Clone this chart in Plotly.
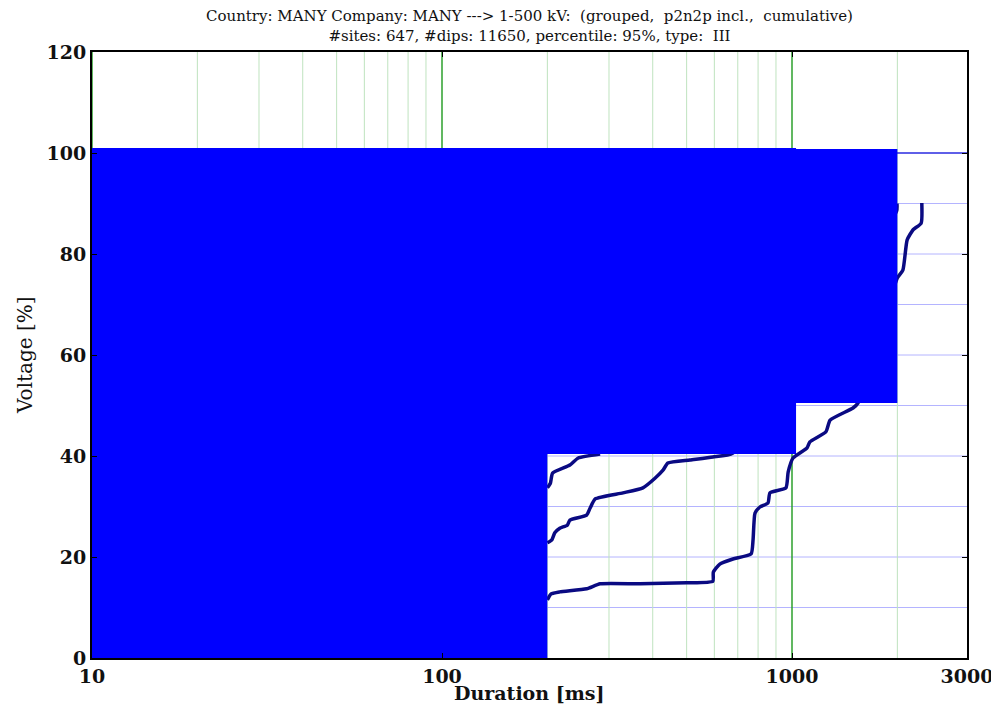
import plotly.graph_objects as go

# ---- data ----
# percentile curves (duration ms, voltage %)
curve_a_x = [200, 205, 217, 259, 283, 368, 501, 594, 596, 622, 678, 764, 774, 784, 810, 854, 865, 961, 975, 1007,
             1104, 1125, 1250, 1285, 1494, 1544, 1998, 2074, 2133, 2218, 2339, 2349]
curve_a_y = [11.5, 12.7, 13.1, 13.7, 14.7, 14.7, 14.9, 15.2, 17.0, 18.6, 19.6, 20.6, 23.4, 28.7, 29.9, 30.7, 32.7, 33.7, 36.8, 39.6,
             41.6, 42.8, 44.8, 47.1, 49.5, 50.5, 75.2, 76.8, 82.8, 84.8, 86.1, 90.1]
curve_b_x = [200, 206, 210, 217, 228, 232, 259, 265, 274, 329, 375, 406, 428, 442, 511, 594, 678, 1990, 1995]
curve_b_y = [22.8, 23.4, 24.8, 25.7, 26.3, 27.3, 28.3, 29.7, 31.5, 32.7, 33.7, 35.6, 37.2, 38.6, 39.2, 39.8, 40.6, 88.5, 90.0]
curve_c_x = [200, 204, 207, 232, 245, 283]
curve_c_y = [33.7, 34.6, 36.6, 38.2, 39.6, 40.4]

# filled region (duration ms, voltage %)
region_x = [10, 200, 200, 1027, 1027, 2000, 2000, 1027, 1027, 10]
region_y = [0, 0, 40.4, 40.4, 50.5, 50.5, 100.8, 100.8, 101, 101]

# reference level line
limit_x = [10, 3162]
limit_y = [100, 100]

# grid positions
h_grid = [10, 20, 30, 40, 50, 60, 70, 80, 90]
v_minor = [20, 30, 40, 50, 60, 70, 80, 90, 200, 300, 400, 500, 600, 700, 800, 900, 2000]
v_major = [10, 100, 1000]

# ticks
x_tickvals = [10, 100, 1000, 3162.28]
x_ticktext = ["10", "100", "1000", "3000"]
y_tickvals = [0, 20, 40, 60, 80, 100, 120]

title_line1 = "Country: MANY Company: MANY ---&gt; 1-500 kV:&nbsp; (grouped,&nbsp; p2n2p incl.,&nbsp; cumulative)"
title_line2 = "#sites: 647, #dips: 11650, percentile: 95%, type:&nbsp; III"
x_label = "Duration [ms]"
y_label = "Voltage [%]"

fig = go.Figure()

navy = "#0a0a82"
for cx, cy in [(curve_a_x, curve_a_y), (curve_b_x, curve_b_y), (curve_c_x, curve_c_y)]:
    fig.add_trace(go.Scatter(x=cx, y=cy, mode="lines",
                             line=dict(color=navy, width=3.5, shape="spline", smoothing=0.5),
                             hoverinfo="skip", showlegend=False))

fig.add_trace(go.Scatter(x=limit_x, y=limit_y, mode="lines", line=dict(color="#2a2ae0", width=1.5),
                         hoverinfo="skip", showlegend=False))

fig.add_trace(go.Scatter(x=region_x, y=region_y, mode="lines", fill="toself", fillcolor="#0000ff",
                         line=dict(color="#0000ff", width=0), hoverinfo="skip", showlegend=False))

shapes = []
for v in h_grid:
    shapes.append(dict(type="line", xref="paper", yref="y", x0=0, x1=1, y0=v, y1=v,
                       line=dict(color="#b4b4ff", width=1), layer="below"))
for v in v_minor:
    shapes.append(dict(type="line", xref="x", yref="paper", x0=v, x1=v, y0=0, y1=1,
                       line=dict(color="#bfe3bf", width=1), layer="below"))
for v in v_major:
    shapes.append(dict(type="line", xref="x", yref="paper", x0=v, x1=v, y0=0, y1=1,
                       line=dict(color="#2ca02c", width=1.5), layer="below"))

tick_font = dict(family="DejaVu Serif", size=19, color="#111111", weight="bold")
title_font = dict(family="DejaVu Serif", size=15, color="#111111")

# the page body adds an 8px offset, so the figure is sized to fit the remaining window
fig.update_layout(
    width=991, height=700,
    margin=dict(l=84, r=32, t=44, b=50),
    paper_bgcolor="white", plot_bgcolor="white",
    shapes=shapes,
    xaxis=dict(type="log", range=[1, 3.5], tickvals=x_tickvals, ticktext=x_ticktext,
               showgrid=False, zeroline=False, showline=True, linecolor="black", linewidth=2,
               mirror="ticks", ticks="inside", ticklen=5, tickcolor="black", automargin=False,
               tickfont=tick_font),
    yaxis=dict(range=[0, 120], tickvals=y_tickvals, showgrid=False, zeroline=False,
               showline=True, linecolor="black", linewidth=2, mirror="ticks", automargin=False,
               ticks="inside", ticklen=5, tickcolor="black", tickfont=tick_font),
    annotations=[
        dict(text=title_line1 + "<br>" + title_line2, xref="paper", yref="paper", x=0.5, y=1, yshift=26,
             showarrow=False, xanchor="center", yanchor="middle", align="center", font=title_font),
        dict(text=x_label, xref="paper", yref="paper", x=0.5, y=0, yshift=-35, showarrow=False,
             xanchor="center", yanchor="middle",
             font=dict(family="DejaVu Serif", size=19, color="#111111", weight="bold")),
        dict(text=y_label, xref="paper", yref="paper", x=0, y=0.5, xshift=-67, showarrow=False,
             xanchor="center", yanchor="middle", textangle=-90,
             font=dict(family="DejaVu Serif", size=20, color="#111111")),
    ],
)

fig.write_html("out.html")
